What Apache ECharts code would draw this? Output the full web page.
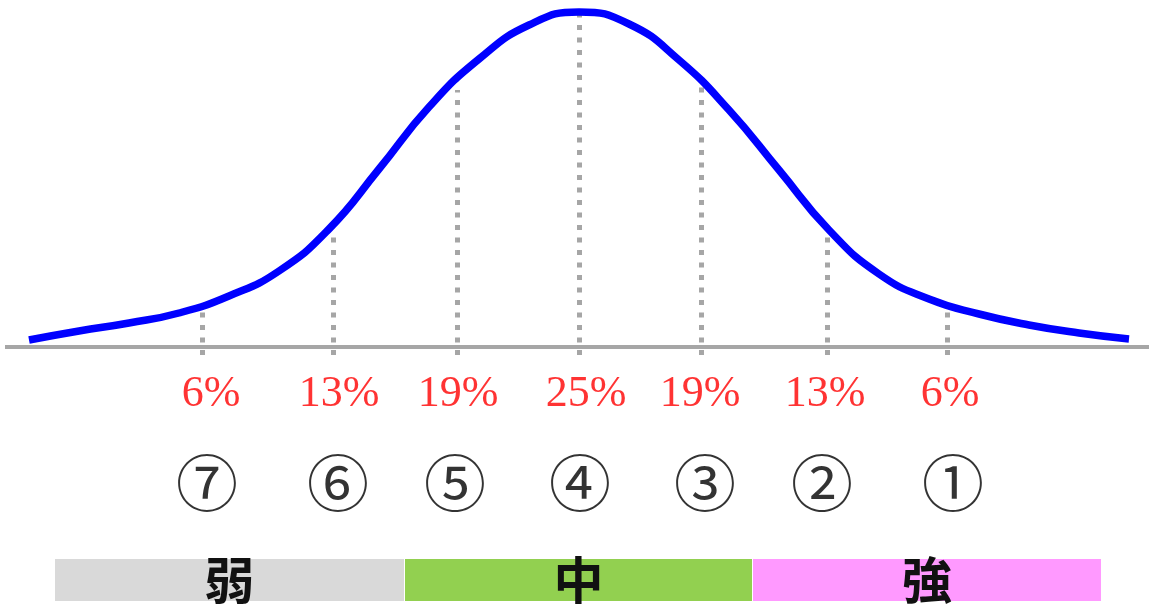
<!DOCTYPE html>
<html>
<head>
<meta charset="utf-8">
<script src="https://cdn.jsdelivr.net/npm/echarts@6/dist/echarts.min.js"></script>
<style>
  html, body { margin: 0; padding: 0; background: #fff; }
  #chart { width: 1149px; height: 608px; }
</style>
</head>
<body>
<div id="chart"></div>
<script>
// bell curve (x along the baseline, h = height above baseline)
const curveX = [29, 79, 129, 179, 229, 279, 329, 379, 429, 479, 529, 579, 629, 679, 729, 779, 829, 879, 929, 979, 1029, 1079, 1129]
const curveH = [7, 16, 24, 34, 51, 76, 118, 178, 240, 288, 322, 335, 323, 287, 237, 177, 117, 73, 48, 33, 22, 14, 8]

// dotted dividers, where they sit on the baseline and how high they reach
const dividerX = [202, 333, 457, 579, 701, 827, 947]
const dividerH = [38, 114, 257, 332, 262, 111, 37]

// share of each group and its number
const pctLabels = ['6%', '13%', '19%', '25%', '19%', '13%', '6%']
const pctX = [211, 339, 458, 586, 700, 825, 950]
const rankLabels = ['⑦', '⑥', '⑤', '④', '③', '②', '①']
const rankX = [207, 338, 455, 580, 705, 822, 953]

// strength bands under the chart
const bandNames = ['弱', '中', '強']
const bandStart = [55, 405, 753]
const bandEnd = [404, 752, 1101]
const bandColors = ['#d9d9d9', '#92d050', '#ff99ff']

const chart = echarts.init(document.getElementById('chart'))

const curveData = curveX.map((x, i) => [x, curveH[i]])

chart.setOption({
  animation: false,
  backgroundColor: '#fff',
  grid: { left: 0, right: 0, top: 0, bottom: 0 },
  xAxis: { type: 'value', min: 0, max: 1149, show: false },
  yAxis: { type: 'value', min: -261, max: 347, show: false },
  series: [
    {
      // baseline + dotted dividers
      type: 'line',
      data: [[5, 0], [1149, 0]],
      symbol: 'none',
      lineStyle: { color: '#a6a6a6', width: 4 },
      z: 1,
      markLine: {
        silent: true,
        symbol: 'none',
        label: { show: false },
        lineStyle: { color: '#a6a6a6', width: 5, type: [5, 7.5], cap: 'butt' },
        data: dividerX.map((x, i) => [{ coord: [x, -8] }, { coord: [x, dividerH[i]] }])
      }
    },
    {
      type: 'line',
      data: curveData,
      smooth: 0.5,
      symbol: 'none',
      lineStyle: { color: '#0000ff', width: 7.5 },
      z: 5
    },
    {
      type: 'scatter',
      symbolSize: 0,
      data: pctX.map((x, i) => ({ value: [x, -47], name: pctLabels[i] })),
      label: {
        show: true,
        position: 'inside',
        formatter: p => p.name,
        color: '#ff0000',
        fontFamily: 'Liberation Serif',
        fontSize: 44
      }
    },
    {
      type: 'scatter',
      symbolSize: 0,
      data: rankX.map((x, i) => ({ value: [x, -136], name: rankLabels[i] })),
      label: {
        show: true,
        position: 'inside',
        formatter: p => p.name,
        color: '#000',
        fontFamily: '"Noto Sans CJK JP"',
        fontWeight: 'normal',
        fontSize: 62
      }
    },
    {
      type: 'custom',
      data: bandStart.map((s, i) => [s, bandEnd[i]]),
      encode: { x: [0, 1] },
      renderItem: (params, api) => {
        const p0 = api.coord([api.value(0), -212])
        const p1 = api.coord([api.value(1), -254])
        return {
          type: 'rect',
          shape: { x: p0[0], y: p0[1], width: p1[0] - p0[0], height: p1[1] - p0[1] },
          style: { fill: bandColors[params.dataIndex] },
          textContent: {
            style: {
              text: bandNames[params.dataIndex],
              fill: '#111',
              fontFamily: '"Noto Sans CJK JP"',
              fontWeight: 'bold',
              fontSize: 50
            }
          },
          textConfig: { position: 'inside' }
        }
      }
    }
  ]
})
</script>
</body>
</html>
